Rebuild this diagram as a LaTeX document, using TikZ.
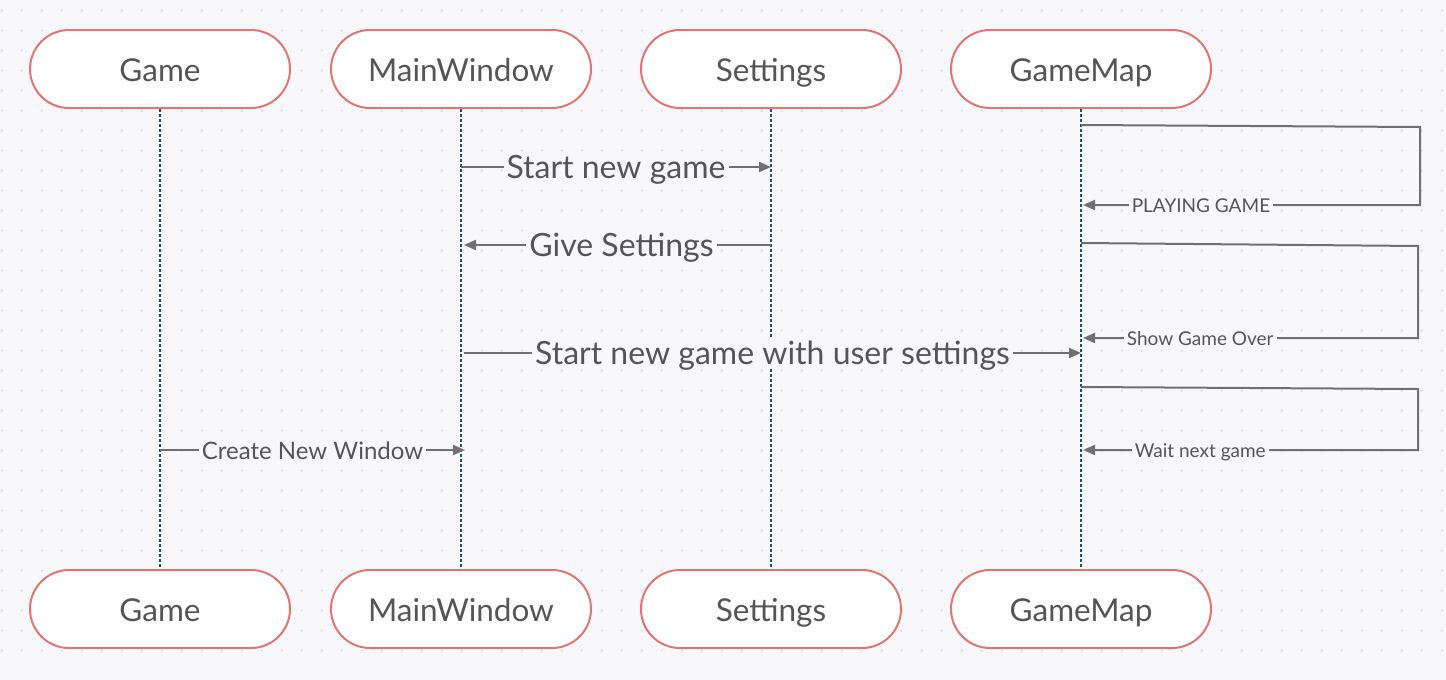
\documentclass[tikz,border=0pt]{standalone}
\usepackage{fontspec}
\setmainfont{Lato}
\usetikzlibrary{arrows.meta}

\definecolor{bgcol}{HTML}{F8F8FB}
\definecolor{dotcol}{HTML}{D9DAE2}
\definecolor{boxline}{HTML}{E27474}
\definecolor{txtcol}{HTML}{555555}
\definecolor{msgcol}{HTML}{707070}
\definecolor{lifecol}{HTML}{1F4E79}

\tikzset{
  actor/.style={draw=boxline, line width=2pt, fill=white, rounded corners=39pt,
    minimum width=260pt, minimum height=78pt, text=txtcol,
    text height=27pt, text depth=3pt,
    font=\fontsize{31.5}{36}\selectfont},
  lifeline/.style={lifecol, line width=1.5pt, dash pattern=on 3pt off 2pt},
  msg/.style={msgcol, line width=2pt, -{Triangle[length=12pt,width=10pt]}},
  msglabel/.style={fill=bgcol, text=txtcol, inner sep=3pt},
  biglabel/.style={msglabel, text height=24pt, text depth=2pt,
    font=\fontsize{32}{36}\selectfont},
  midlabel/.style={msglabel, text height=20pt, text depth=2pt,
    font=\fontsize{24}{28}\selectfont},
  smalllabel/.style={msglabel, text height=16pt, text depth=2pt,
    font=\fontsize{19}{22}\selectfont}
}

\begin{document}
\begin{tikzpicture}[x=1pt, y=-1pt]
    \useasboundingbox[fill=bgcol] (0,0) rectangle (1446,680);
    % dotted background grid
    \foreach \y in {10.7,30.7,...,670}
        \draw[dotcol, line width=2.2pt, line cap=round, dash pattern=on 0pt off 20pt]
        (1.7,\y) -- (1446,\y);

    % lifelines
    \node[actor] (game) at (160,69) {Game};
    \node[actor] (main) at (461,69) {MainWindow};
    \node[actor] (sett) at (771,69) {Settings};
    \node[actor] (gmap) at (1081,69) {GameMap};
    \node[actor] (gameB) at (160,609) {Game};
    \node[actor] (mainB) at (461,609) {MainWindow};
    \node[actor] (settB) at (771,609) {Settings};
    \node[actor] (gmapB) at (1081,609) {GameMap};
    \draw[lifeline] (game) -- (gameB);
    \draw[lifeline] (main) -- (mainB);
    \draw[lifeline] (sett) -- (settB);
    \draw[lifeline] (gmap) -- (gmapB);

    % message rows
    \foreach \y/\n in {167/a,245/b,353/c,450/d,125/e,205/f,243/g,338/h,387/i}
        \coordinate (row\n) at (0,\y);

    \draw[msg] (main |- rowa) -- node[biglabel]{Start new game} (sett |- rowa);
    \draw[msg] (sett |- rowb) -- node[biglabel, xshift=4pt]{Give Settings} ([xshift=3pt]main |- rowb);
    \draw[msg] ([xshift=3pt]main |- rowc) -- node[biglabel]{Start new game with user settings} (gmap |- rowc);
    \draw[msg] (game |- rowd) -- node[midlabel]{Create New Window} ([xshift=4pt]main |- rowd);

    % self messages of GameMap
    \coordinate (loopa) at (1420,127);
    \coordinate (loopb) at (1420,205);
    \coordinate (loopc) at (1418,246);
    \coordinate (loopd) at (1418,338);
    \coordinate (loope) at (1418,389);
    \coordinate (loopf) at (1418,450);
    \draw[msg] (gmap |- rowe) -- (loopa) -- (loopb) --
        node[smalllabel, pos=0.65]{PLAYING GAME} ([xshift=2pt]gmap |- rowf);
    \draw[msg] (gmap |- rowg) -- (loopc) -- (loopd) --
        node[smalllabel, pos=0.65]{Show Game Over} ([xshift=2pt]gmap |- rowh);
    \draw[msg] (gmap |- rowi) -- (loope) -- (loopf) --
        node[smalllabel, pos=0.65]{Wait next game} ([xshift=2pt]gmap |- rowd);
\end{tikzpicture}
\end{document}
